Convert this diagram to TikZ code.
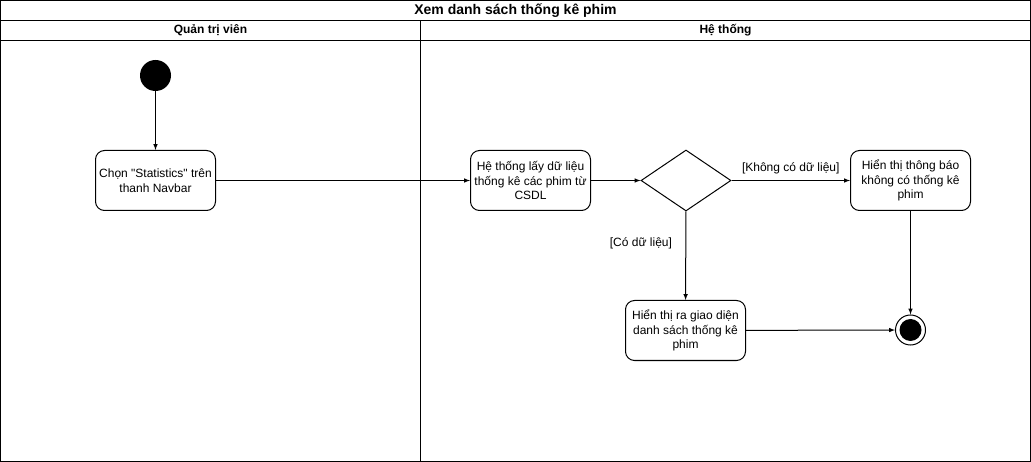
\documentclass[tikz,border=0pt]{standalone}
\usepackage{fontspec}
\setmainfont{Liberation Sans}
\usepackage{tikz}
\usetikzlibrary{arrows,shapes.geometric}

\tikzset{
  action/.style={draw, rounded corners=9pt, minimum width=120pt, minimum height=60pt,
    align=center, inner sep=2pt, font=\fontsize{12}{14.5}\selectfont},
  choice/.style={draw, diamond, minimum width=90pt, minimum height=61pt, inner sep=0pt},
  guard/.style={font=\fontsize{12}{14.5}\selectfont},
  lanehead/.style={font=\bfseries\fontsize{12}{14}\selectfont}
}

\begin{document}
\begin{tikzpicture}[x=1pt,y=-1pt,line width=1pt,>=latex]
        \useasboundingbox (0,0) rectangle (1031,462);

        % khung va cac lan
        \draw (0.5,0.5) rectangle (1030.5,461.5);
        \draw (0.5,20.5) -- (1030.5,20.5);
        \draw (0.5,40.5) -- (1030.5,40.5);
        \draw (420.5,20.5) -- (420.5,461.5);
        \node[font=\bfseries\fontsize{14}{16}\selectfont] (title) at (515.5,10.5) {Xem danh sách thống kê phim};
        \node[lanehead] (admin) at (210.5,30.5) {Quản trị viên};
        \node[lanehead] (system) at (725.5,30.5) {Hệ thống};

        % cac nut
        \node[circle, fill=black, minimum size=31pt, inner sep=0pt] (start) at (155.5,75.5) {};
        \node[action] (choose) at (155.5,180.5) {Chọn \textquotedbl Statistics\textquotedbl{} trên\\thanh Navbar};
        \node[action] (fetch) at (530.5,180.5) {Hệ thống lấy dữ liệu\\thống kê các phim từ\\CSDL};
        \node[choice] (check) at (686,180.5) {};
        \node[action] (notify) at (910.5,180.5) {Hiển thị thông báo\\không có thống kê\\phim};
        \node[action] (show) at (685.5,330.5) {Hiển thị ra giao diện\\danh sách thống kê\\phim};
        \node[circle, draw, minimum size=30pt, inner sep=0pt] (end) at (910.5,330) {};
        \fill (end.center) circle (11pt);

        % cac mui ten
        \draw[->] (start) -- (choose);
        \draw[->] (choose) -- (fetch);
        \draw[->] (fetch) -- (check);
        \draw[->] (check) -- node[guard, above=3pt] {[Không có dữ liệu]} (notify);
        \draw[->] (check) -- node[guard, left=10pt, pos=0.36] {[Có dữ liệu]} (show);
        \draw[->] (notify) -- (end);
        \draw[->] (show) -- (end);
\end{tikzpicture}
\end{document}
